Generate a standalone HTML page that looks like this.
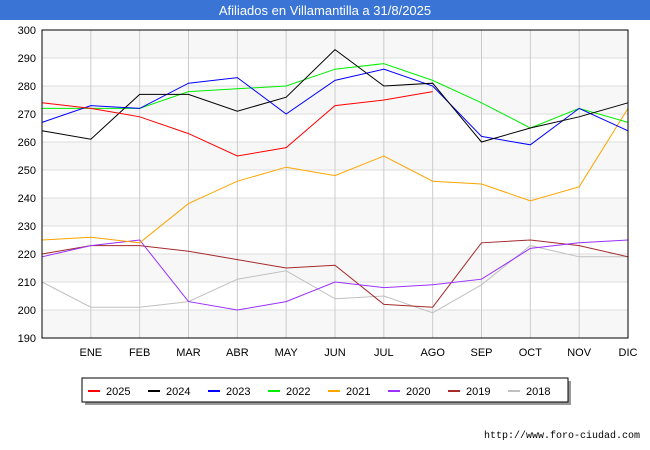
<!DOCTYPE html>
<html><head><meta charset="utf-8"><style>
body{margin:0;background:#fff;font-family:"Liberation Sans",sans-serif;}
#wrap{position:relative;width:650px;height:450px;overflow:hidden;}
</style></head><body>
<div id="wrap">
<svg id="chart" width="650" height="450" xmlns="http://www.w3.org/2000/svg">
<rect x="0" y="0" width="650" height="20" fill="#3a75d6"/>
<text x="325" y="15" text-anchor="middle" font-size="13" fill="#fff" font-family="Liberation Sans, sans-serif">Afiliados en Villamantilla a 31/8/2025</text>
<g id="grid"></g><g id="series"></g><g id="axes"></g>
<rect x="85" y="381" width="486" height="24" fill="#999"/>
<rect x="82" y="378" width="486" height="24" fill="#fff" stroke="#000" stroke-width="1"/>
<g id="legend"></g>
<text x="640" y="438" text-anchor="end" font-size="10" fill="#000" font-family="Liberation Mono, monospace">http://www.foro-ciudad.com</text>
</svg>
</div>
<script>
const months = ["", "ENE","FEB","MAR","ABR","MAY","JUN","JUL","AGO","SEP","OCT","NOV","DIC"];
const yTicks = [190,200,210,220,230,240,250,260,270,280,290,300];
const seriesNames = ["2025","2024","2023","2022","2021","2020","2019","2018"];
const seriesColors = ["#ff0000","#000000","#0000ff","#00ee00","#ffa500","#9b30ff","#a52a2a","#c0c0c0"];
const s2025 = [274,272,269,263,255,258,273,275,278];
const s2024 = [264,261,277,277,271,276,293,280,281,260,265,269,274];
const s2023 = [267,273,272,281,283,270,282,286,280,262,259,272,264];
const s2022 = [272,272,272,278,279,280,286,288,282,274,265,272,267];
const s2021 = [225,226,224,238,246,251,248,255,246,245,239,244,272];
const s2020 = [219,223,225,203,200,203,210,208,209,211,222,224,225];
const s2019 = [220,223,223,221,218,215,216,202,201,224,225,223,219];
const s2018 = [210,201,201,203,211,214,204,205,199,209,223,219,219];
const allSeries = [s2025,s2024,s2023,s2022,s2021,s2020,s2019,s2018];

const NS="http://www.w3.org/2000/svg";
const X0=42,X1=628,Y0=30,Y1=338,VMIN=190,VMAX=300;
function xs(i){return X0+(X1-X0)*i/(months.length-1);}
function ys(v){return Y1-(v-VMIN)/(VMAX-VMIN)*(Y1-Y0);}
function mk(tag,attrs,parent){const e=document.createElementNS(NS,tag);for(const k in attrs)e.setAttribute(k,attrs[k]);parent.appendChild(e);return e;}
const grid=document.getElementById('grid'),axes=document.getElementById('axes'),ser=document.getElementById('series'),leg=document.getElementById('legend');
for(let i=0;i<yTicks.length-1;i++){
  if(i%2===0){const r=mk('rect',{x:X0,y:ys(yTicks[i+1]),width:X1-X0,height:ys(yTicks[i])-ys(yTicks[i+1]),fill:'#f7f7f7'},grid);
  
  }
}
yTicks.forEach(t=>{
  const l=mk('line',{x1:X0,x2:X1,y1:ys(t),y2:ys(t),stroke:'#ddd','stroke-width':1},grid);
  
  
  const tx=mk('text',{x:X0-6,y:ys(t)+4,'text-anchor':'end','font-size':11,fill:'#000'},axes);
  tx.textContent=t;
  
  
});
months.forEach((m,i)=>{
  if(i>0){const l=mk('line',{x1:xs(i),x2:xs(i),y1:Y0,y2:Y1,stroke:'#ccc','stroke-width':1},grid);
  
  }
  const tx=mk('text',{x:xs(i),y:Y1+18,'text-anchor':'middle','font-size':11,fill:'#000'},axes);
  tx.textContent=m;
  
  
});
const frame=mk('rect',{x:X0,y:Y0,width:X1-X0,height:Y1-Y0,fill:'none',stroke:'#000','stroke-width':1},axes);


allSeries.slice().reverse().forEach((s,ri)=>{
  const k=allSeries.length-1-ri;
  const pts=s.map((v,i)=>xs(i)+','+ys(v)).join(' ');
  const p=mk('polyline',{points:pts,fill:'none',stroke:seriesColors[k],'stroke-width':1},ser);
  
  
});
seriesNames.forEach((n,k)=>{
  const x=88+k*60;
  const l=mk('line',{x1:x,x2:x+12,y1:391,y2:391,stroke:seriesColors[k],'stroke-width':2},leg);
  
  
  const t=mk('text',{x:x+18,y:395,'font-size':11,fill:'#000'},leg);
  t.textContent=n;
  
  
});
</script>
</body></html>
